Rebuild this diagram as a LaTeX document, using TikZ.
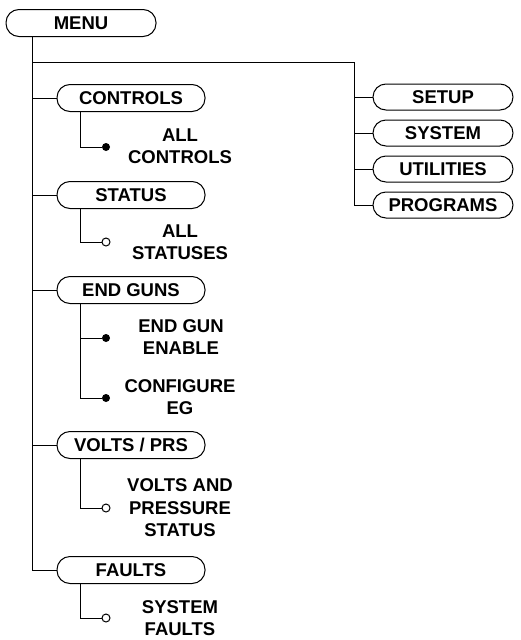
\documentclass[tikz,border=0pt]{standalone}
\usepackage{fontspec}
\setmainfont{Liberation Sans}
\usetikzlibrary{positioning}

\tikzset{
  menubox/.style={draw,rounded corners=13pt,minimum height=27pt,inner sep=0pt,font=\bfseries\fontsize{18.5}{22}\selectfont},
  subbox/.style={menubox,minimum width=148pt},
  sidebox/.style={menubox,minimum width=140pt,minimum height=26pt},
  leaf/.style={align=center,inner sep=0pt,font=\bfseries\fontsize{18.5}{22.5}\selectfont},
  dotfull/.style={circle,fill=black,minimum size=8pt,inner sep=0pt},
  dotopen/.style={circle,draw,fill=white,minimum size=8pt,inner sep=0pt}
}

\begin{document}
\begin{tikzpicture}[x=1pt,y=-1pt,line width=1pt]
  \useasboundingbox (0,0) rectangle (521,640);
  % Nodes
  \node[menubox,minimum width=150pt] (menu) at (81,23) {MENU};
  \node[subbox] (controls) at (131,98) {CONTROLS};
  \node[subbox] (status) at (131,195) {STATUS};
  \node[subbox] (endguns) at (131,290) {END GUNS};
  \node[subbox] (volts) at (131,445) {VOLTS / PRS};
  \node[subbox] (faults) at (131,570) {FAULTS};

  \node[sidebox] (setup) at (443,97) {SETUP};
  \node[sidebox] (system) at (443,133) {SYSTEM};
  \node[sidebox] (utils) at (443,169) {UTILITIES};
  \node[sidebox] (programs) at (443,205) {PROGRAMS};

  \node[dotfull] (d1) at (106,147) {};
  \node[dotopen] (d2) at (106,242) {};
  \node[dotfull] (d3) at (106,338) {};
  \node[dotfull] (d4) at (106,398) {};
  \node[dotopen] (d5) at (106,508) {};
  \node[dotopen] (d6) at (106,618) {};

  \node[leaf] (allctrl) at (180,146) {ALL\\CONTROLS};
  \node[leaf] (allstat) at (180,242) {ALL\\STATUSES};
  \node[leaf] (egenable) at (181,337) {END GUN\\ENABLE};
  \node[leaf] (egconf) at (180,397) {CONFIGURE\\EG};
  \node[leaf] (vpstat) at (180,508) {VOLTS AND\\PRESSURE\\STATUS};
  \node[leaf] (sysflt) at (180,618) {SYSTEM\\FAULTS};

  \coordinate (trunk) at (32,37);
  \coordinate (side) at (354,62);

  % Edges
  \draw (trunk) |- (faults.west);
  \draw (trunk |- controls.west) -- (controls.west);
  \draw (trunk |- status.west) -- (status.west);
  \draw (trunk |- endguns.west) -- (endguns.west);
  \draw (trunk |- volts.west) -- (volts.west);
  \draw (trunk |- side) -- (side) |- (programs.west);
  \draw (side |- setup.west) -- (setup.west);
  \draw (side |- system.west) -- (system.west);
  \draw (side |- utils.west) -- (utils.west);

  \draw ([xshift=24pt]controls.south west) |- (d1.west);
  \draw ([xshift=24pt]status.south west) |- (d2.west);
  \draw ([xshift=24pt]endguns.south west) |- (d3.west);
  \draw ([xshift=24pt]endguns.south west) |- (d4.west);
  \draw ([xshift=24pt]volts.south west) |- (d5.west);
  \draw ([xshift=24pt]faults.south west) |- (d6.west);
\end{tikzpicture}
\end{document}
